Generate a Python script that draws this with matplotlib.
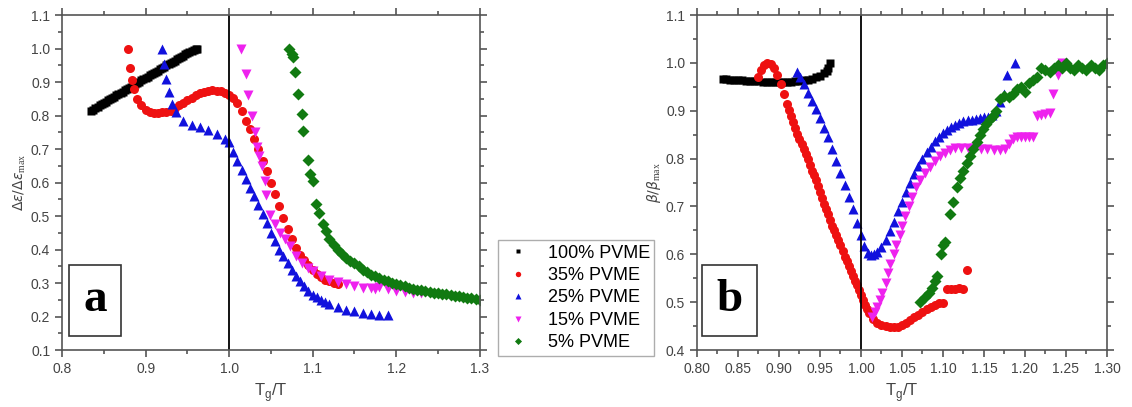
import matplotlib.pyplot as plt
from matplotlib.ticker import MultipleLocator

# panel a: dielectric strength, normalised
a_100_x = [0.835, 0.8375, 0.84, 0.8425, 0.845, 0.8475, 0.85, 0.8525, 0.855, 0.8575,
           0.86, 0.8625, 0.865, 0.8675, 0.87, 0.8725, 0.875, 0.8775, 0.88, 0.8825,
           0.885, 0.8875, 0.89, 0.8925, 0.895, 0.8975, 0.90, 0.9025, 0.905, 0.9075,
           0.91, 0.9125, 0.915, 0.9175, 0.92, 0.9225, 0.925, 0.9275, 0.93, 0.9325,
           0.935, 0.9375, 0.94, 0.9425, 0.945, 0.9475, 0.95, 0.9525, 0.955, 0.9575,
           0.96, 0.962]
a_100_y = [0.815, 0.818, 0.822, 0.826, 0.83, 0.834, 0.838, 0.841, 0.845, 0.849,
           0.852, 0.856, 0.86, 0.864, 0.868, 0.871, 0.875, 0.879, 0.883, 0.886,
           0.89, 0.894, 0.897, 0.901, 0.905, 0.909, 0.912, 0.916, 0.92, 0.923,
           0.927, 0.931, 0.934, 0.938, 0.942, 0.946, 0.95, 0.953, 0.957, 0.96,
           0.964, 0.968, 0.972, 0.975, 0.979, 0.983, 0.986, 0.99, 0.993, 0.996,
           0.998, 1.0]

a_35_x = [0.879, 0.881, 0.884, 0.886, 0.89, 0.895, 0.90, 0.905, 0.91, 0.915, 0.92, 0.925, 0.93, 0.935,
          0.94, 0.945, 0.95, 0.955, 0.96, 0.965, 0.97, 0.975, 0.98, 0.985, 0.99, 0.995, 1.0, 1.005,
          1.01, 1.015, 1.02, 1.025, 1.03, 1.035, 1.04, 1.045, 1.05, 1.055, 1.06, 1.065, 1.07, 1.075,
          1.08, 1.085, 1.09, 1.095, 1.1, 1.105, 1.11, 1.115, 1.12, 1.125, 1.13]
a_35_y = [1.0, 0.943, 0.905, 0.88, 0.85, 0.83, 0.818, 0.81, 0.808, 0.808, 0.81, 0.812, 0.815, 0.822,
          0.83, 0.838, 0.845, 0.853, 0.86, 0.866, 0.87, 0.874, 0.875, 0.874, 0.872, 0.868, 0.862, 0.852,
          0.838, 0.815, 0.785, 0.76, 0.73, 0.7, 0.665, 0.635, 0.6, 0.565, 0.53, 0.495, 0.46, 0.43,
          0.405, 0.385, 0.37, 0.355, 0.34, 0.328, 0.318, 0.31, 0.305, 0.301, 0.298]

a_25_x = [0.92, 0.922, 0.925, 0.928, 0.932, 0.937, 0.945, 0.955, 0.965, 0.975, 0.985, 0.995, 1.0,
          1.005, 1.01, 1.015, 1.02, 1.025, 1.03, 1.035, 1.04, 1.045, 1.05, 1.055, 1.06, 1.065, 1.07,
          1.075, 1.08, 1.085, 1.09, 1.095, 1.1, 1.105, 1.11, 1.115, 1.12, 1.13, 1.14, 1.15, 1.16,
          1.17, 1.18, 1.19]
a_25_y = [1.0, 0.955, 0.91, 0.87, 0.835, 0.81, 0.785, 0.772, 0.765, 0.757, 0.745, 0.73, 0.72,
          0.692, 0.665, 0.637, 0.61, 0.585, 0.56, 0.532, 0.505, 0.478, 0.45, 0.425, 0.40, 0.38, 0.36,
          0.34, 0.32, 0.305, 0.29, 0.277, 0.265, 0.257, 0.25, 0.244, 0.238, 0.228, 0.22, 0.215, 0.21,
          0.207, 0.206, 0.205]

a_15_x = [1.014, 1.02, 1.023, 1.027, 1.031, 1.033, 1.036, 1.039, 1.043, 1.044, 1.049, 1.055, 1.061,
          1.067, 1.073, 1.08, 1.087, 1.094, 1.1, 1.11, 1.12, 1.13, 1.14, 1.15, 1.16, 1.17, 1.175,
          1.18, 1.19, 1.2, 1.21, 1.22, 1.23]
a_15_y = [1.0, 0.924, 0.86, 0.80, 0.75, 0.707, 0.68, 0.65, 0.605, 0.562, 0.502, 0.475, 0.45,
          0.43, 0.41, 0.38, 0.36, 0.345, 0.335, 0.322, 0.31, 0.302, 0.296, 0.29, 0.286, 0.284, 0.283,
          0.288, 0.283, 0.277, 0.273, 0.27, 0.27]

a_5_x = [1.072, 1.075, 1.077, 1.079, 1.083, 1.087, 1.089, 1.094, 1.097, 1.1, 1.104, 1.108, 1.112,
         1.116, 1.12, 1.125, 1.13, 1.135, 1.14, 1.145, 1.15, 1.155, 1.16, 1.165, 1.17, 1.175, 1.18,
         1.185, 1.19, 1.195, 1.2, 1.205, 1.21, 1.215, 1.22, 1.225, 1.23, 1.235, 1.24, 1.245, 1.25,
         1.255, 1.26, 1.265, 1.27, 1.275, 1.28, 1.285, 1.29, 1.295, 1.3]
a_5_y = [1.0, 0.985, 0.975, 0.93, 0.865, 0.806, 0.755, 0.668, 0.625, 0.605, 0.537, 0.51, 0.476,
         0.455, 0.43, 0.415, 0.40, 0.387, 0.375, 0.367, 0.36, 0.35, 0.34, 0.332, 0.325, 0.32, 0.315,
         0.31, 0.305, 0.301, 0.297, 0.293, 0.29, 0.286, 0.283, 0.28, 0.278, 0.275, 0.273, 0.271, 0.27,
         0.268, 0.266, 0.264, 0.262, 0.26, 0.258, 0.256, 0.254, 0.252, 0.25]

# panel b: stretching exponent, normalised
b_100_x = [0.832, 0.836, 0.84, 0.845, 0.85, 0.855, 0.86, 0.865, 0.87, 0.875, 0.88, 0.885, 0.89, 0.895,
           0.9, 0.905, 0.91, 0.915, 0.92, 0.925, 0.93, 0.935, 0.94, 0.945, 0.95, 0.955, 0.958, 0.96, 0.962]
b_100_y = [0.966, 0.966, 0.965, 0.965, 0.964, 0.964, 0.963, 0.963, 0.962, 0.962, 0.961, 0.961, 0.96, 0.96,
           0.96, 0.96, 0.961, 0.961, 0.962, 0.963, 0.964, 0.965, 0.967, 0.97, 0.973, 0.978, 0.983, 0.99, 1.0]

b_35_x = [0.875, 0.878, 0.882, 0.886, 0.89, 0.894, 0.898, 0.902, 0.906, 0.91, 0.9125, 0.915, 0.9175,
          0.92, 0.9225, 0.925, 0.9275, 0.93, 0.9325, 0.935, 0.9375, 0.94, 0.9425, 0.945, 0.9475,
          0.95, 0.9525, 0.955, 0.9575, 0.96, 0.9625, 0.965, 0.9675, 0.97, 0.9725, 0.975, 0.9775,
          0.98, 0.9825, 0.985, 0.9875, 0.99, 0.9925, 0.995, 0.9975, 1.0, 1.0025, 1.005, 1.0075,
          1.01, 1.015, 1.02, 1.025, 1.03, 1.035, 1.04, 1.045, 1.05, 1.055, 1.06, 1.065, 1.07,
          1.075, 1.08, 1.085, 1.09, 1.095, 1.1, 1.105, 1.11, 1.115, 1.12, 1.125, 1.129]
b_35_y = [0.97, 0.985, 0.995, 1.0, 0.998, 0.99, 0.975, 0.955, 0.935, 0.915, 0.902, 0.89, 0.877,
          0.865, 0.852, 0.84, 0.83, 0.82, 0.81, 0.8, 0.787, 0.775, 0.765, 0.755, 0.742,
          0.73, 0.717, 0.705, 0.695, 0.685, 0.672, 0.66, 0.65, 0.64, 0.63, 0.62, 0.607,
          0.595, 0.585, 0.575, 0.565, 0.555, 0.545, 0.535, 0.525, 0.515, 0.505, 0.495, 0.486,
          0.478, 0.465, 0.457, 0.452, 0.45, 0.449, 0.448, 0.449, 0.452, 0.456, 0.462, 0.468, 0.474,
          0.48, 0.485, 0.49, 0.495, 0.498, 0.498, 0.527, 0.528, 0.528, 0.529, 0.528, 0.568]

b_25_x = [0.922, 0.926, 0.93, 0.935, 0.94, 0.945, 0.95, 0.955, 0.96, 0.965, 0.97, 0.975, 0.98, 0.985,
          0.99, 0.995, 1.0, 1.004, 1.008, 1.012, 1.016, 1.02, 1.025, 1.03, 1.035, 1.04, 1.045, 1.05,
          1.055, 1.06, 1.065, 1.07, 1.075, 1.08, 1.085, 1.09, 1.095, 1.1, 1.105, 1.11, 1.115, 1.12,
          1.125, 1.13, 1.135, 1.14, 1.145, 1.15, 1.155, 1.16, 1.165, 1.17, 1.175, 1.178, 1.188]
b_25_y = [0.98, 0.97, 0.955, 0.937, 0.92, 0.903, 0.885, 0.865, 0.845, 0.82, 0.795, 0.77, 0.745, 0.72,
          0.695, 0.665, 0.64, 0.618, 0.603, 0.598, 0.6, 0.605, 0.615, 0.63, 0.648, 0.668, 0.69, 0.71,
          0.73, 0.75, 0.768, 0.785, 0.8, 0.813, 0.825, 0.836, 0.845, 0.853, 0.86, 0.866, 0.871, 0.875,
          0.878, 0.88, 0.881, 0.882, 0.884, 0.886, 0.888, 0.892, 0.9, 0.918, 0.935, 0.975, 1.0]

b_15_x = [1.013, 1.017, 1.02, 1.023, 1.026, 1.03, 1.033, 1.036, 1.04, 1.043, 1.047, 1.05, 1.054, 1.058,
          1.062, 1.067, 1.072, 1.078, 1.084, 1.09, 1.096, 1.102, 1.108, 1.115, 1.122, 1.13, 1.138,
          1.146, 1.154, 1.162, 1.17, 1.176, 1.18, 1.185, 1.19, 1.195, 1.2, 1.205, 1.21, 1.215, 1.22,
          1.225, 1.23, 1.234, 1.24, 1.245]
b_15_y = [0.47, 0.48, 0.49, 0.505, 0.52, 0.54, 0.56, 0.58, 0.6, 0.62, 0.64, 0.66, 0.68, 0.7,
          0.72, 0.74, 0.755, 0.77, 0.782, 0.795, 0.805, 0.812, 0.818, 0.822, 0.823, 0.822, 0.822,
          0.821, 0.82, 0.818, 0.818, 0.82, 0.83, 0.84, 0.845, 0.846, 0.846, 0.845, 0.846, 0.89, 0.892,
          0.893, 0.895, 0.935, 0.975, 1.0]

b_5_x = [1.072, 1.078, 1.083, 1.087, 1.09, 1.093, 1.097, 1.1, 1.103, 1.108, 1.112, 1.117, 1.121, 1.125,
         1.129, 1.133, 1.137, 1.141, 1.145, 1.149, 1.153, 1.157, 1.161, 1.165, 1.17, 1.175, 1.18, 1.185,
         1.19, 1.195, 1.2, 1.205, 1.21, 1.215, 1.22, 1.225, 1.23, 1.235, 1.24, 1.245, 1.25, 1.255,
         1.26, 1.265, 1.27, 1.275, 1.28, 1.285, 1.29, 1.295, 1.3]
b_5_y = [0.5, 0.51, 0.52, 0.53, 0.545, 0.555, 0.6, 0.62, 0.625, 0.685, 0.71, 0.74, 0.76, 0.775,
         0.79, 0.805, 0.82, 0.835, 0.85, 0.862, 0.873, 0.882, 0.89, 0.9, 0.925, 0.93, 0.928, 0.935,
         0.945, 0.95, 0.94, 0.958, 0.965, 0.97, 0.99, 0.985, 0.98, 0.99, 0.995, 0.99, 1.0, 0.99,
         0.985, 0.995, 0.99, 0.985, 0.995, 0.99, 0.985, 0.995, 1.0]

labels = ["100% PVME", "35% PVME", "25% PVME", "15% PVME", "5% PVME"]
colors = ["black", "#ee1111", "#1111dd", "#ee22ee", "#117a11"]
markers = ["s", "o", "^", "v", "D"]
msizes = [6, 6.5, 7, 7, 6]

fig = plt.figure(figsize=(11.32, 4.07), dpi=100)
ax1 = fig.add_axes([0.0548, 0.14, 0.369, 0.823])
ax2 = fig.add_axes([0.6157, 0.14, 0.3622, 0.823])

a_data = [(a_100_x, a_100_y), (a_35_x, a_35_y), (a_25_x, a_25_y), (a_15_x, a_15_y), (a_5_x, a_5_y)]
b_data = [(b_100_x, b_100_y), (b_35_x, b_35_y), (b_25_x, b_25_y), (b_15_x, b_15_y), (b_5_x, b_5_y)]

for i in range(5):
    ax1.plot(a_data[i][0], a_data[i][1], linestyle="none", marker=markers[i], color=colors[i],
             ms=msizes[i], mec="none", label=labels[i])
    ax2.plot(b_data[i][0], b_data[i][1], linestyle="none", marker=markers[i], color=colors[i],
             ms=msizes[i], mec="none")

tick_col = "#444444"
for ax in (ax1, ax2):
    ax.axvline(1.0, color="black", lw=1.3)
    for s in ax.spines.values():
        s.set_color("#555555")
        s.set_linewidth(1.2)
    ax.tick_params(which="both", direction="out", colors="#555555", labelcolor=tick_col,
                   labelsize=10, width=1.2)
    ax.tick_params(which="major", length=5)
    ax.tick_params(which="minor", length=3)
    ax.tick_params(top=True, right=True, which="both")
    ax.set_xlabel("T$_\\mathregular{g}$/T", fontsize=12, color=tick_col, family="Liberation Sans")

ax1.set_xlim(0.8, 1.3)
ax1.set_ylim(0.1, 1.1)
ax1.xaxis.set_major_locator(MultipleLocator(0.1))
ax1.xaxis.set_minor_locator(MultipleLocator(0.05))
ax1.yaxis.set_major_locator(MultipleLocator(0.1))
ax1.yaxis.set_minor_locator(MultipleLocator(0.05))
ax1.xaxis.set_major_formatter(plt.FormatStrFormatter("%.1f"))
ax1.yaxis.set_major_formatter(plt.FormatStrFormatter("%.1f"))
ax1.set_ylabel("$\\Delta\\epsilon/\\Delta\\epsilon_{\\mathregular{max}}$", fontsize=10,
               color=tick_col, family="Liberation Serif", labelpad=2)

ax2.set_xlim(0.8, 1.3)
ax2.set_ylim(0.4, 1.1)
ax2.xaxis.set_major_locator(MultipleLocator(0.05))
ax2.xaxis.set_minor_locator(MultipleLocator(0.025))
ax2.yaxis.set_major_locator(MultipleLocator(0.1))
ax2.yaxis.set_minor_locator(MultipleLocator(0.05))
ax2.xaxis.set_major_formatter(plt.FormatStrFormatter("%.2f"))
ax2.yaxis.set_major_formatter(plt.FormatStrFormatter("%.1f"))
ax2.set_ylabel("$\\beta/\\beta_{\\mathregular{max}}$", fontsize=10, color=tick_col,
               family="Liberation Serif", labelpad=2)

for ax in (ax1, ax2):
    for lab in ax.get_xticklabels() + ax.get_yticklabels():
        lab.set_family("Liberation Sans")

plt.rcParams["mathtext.fontset"] = "custom"

# panel letters in boxes
fig.text(0.0838, 0.262, "a", fontsize=34, fontweight="bold", family="Liberation Serif",
         ha="center", va="center", bbox=dict(boxstyle="square,pad=0.3", fc="white", ec="#333333", lw=1.2))
fig.text(0.6445, 0.262, "b", fontsize=34, fontweight="bold", family="Liberation Serif",
         ha="center", va="center", bbox=dict(boxstyle="square,pad=0.3", fc="white", ec="#333333", lw=1.2))

leg = fig.legend(loc="upper left", bbox_to_anchor=(0.44, 0.41), frameon=True, fancybox=False,
                 edgecolor="#999999", markerscale=0.6, handlelength=1.7, borderaxespad=0,
                 handletextpad=0.8, labelspacing=0.3, borderpad=0.25,
                 prop={"family": "Liberation Sans", "size": 13})
leg.get_frame().set_linewidth(1.0)

fig.savefig("out.png", dpi=100)
